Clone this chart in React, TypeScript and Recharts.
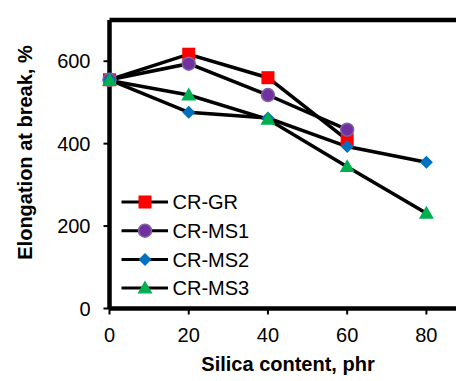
import React from 'react';
import {
  LineChart,
  Line,
  XAxis,
  YAxis,
  Legend,
  ReferenceLine,
  Label,
} from 'recharts';

// Silica content (phr)
const silica = [0, 20, 40, 60, 80];

// Elongation at break (%) per compound, null = not measured
const crGR = [555, 617, 560, 409, null];
const crMS1 = [555, 594, 518, 434, null];
const crMS2 = [555, 476, 462, 393, 355];
const crMS3 = [553, 518, 459, 344, 231];

const xTicks = [0, 20, 40, 60, 80];
const yTicks = [0, 200, 400, 600];

const FONT = '"Liberation Sans", Arial, sans-serif';

const chartData = silica.map((s, i) => ({
  silica: s,
  gr: crGR[i],
  ms1: crMS1[i],
  ms2: crMS2[i],
  ms3: crMS3[i],
}));

// marker shapes
const Square = ({ cx, cy, s = 13 }: any) => (
  <rect x={cx - s / 2} y={cy - s / 2} width={s} height={s} fill="#ff0000" />
);
const Circle = ({ cx, cy, r = 6.5 }: any) => (
  <circle cx={cx} cy={cy} r={r} fill="#7030a0" stroke="#8064a2" strokeWidth={1.5} />
);
const Diamond = ({ cx, cy, s = 6.5 }: any) => (
  <polygon
    points={`${cx},${cy - s} ${cx + s},${cy} ${cx},${cy + s} ${cx - s},${cy}`}
    fill="#0070c0"
  />
);
const Triangle = ({ cx, cy, s = 7.5 }: any) => (
  <polygon
    points={`${cx},${cy - s} ${cx + s},${cy + s * 0.72} ${cx - s},${cy + s * 0.72}`}
    fill="#00b050"
  />
);

const series = [
  { key: 'gr', name: 'CR-GR', Marker: Square },
  { key: 'ms1', name: 'CR-MS1', Marker: Circle },
  { key: 'ms2', name: 'CR-MS2', Marker: Diamond },
  { key: 'ms3', name: 'CR-MS3', Marker: Triangle },
];

const makeDot = (Marker: any) => (props: any) => {
  const { cx, cy, index, value } = props;
  if (value == null || cx == null || cy == null) return <g key={`d${index}`} />;
  return (
    <g key={`d${index}`}>
      <Marker cx={cx} cy={cy} />
    </g>
  );
};

const CustomLegend = () => (
  <svg width={160} height={120} style={{ display: 'block' }}>
    {series.map((s, i) => {
      const y = 14 + i * 28.7;
      return (
        <g key={s.key}>
          <line x1={6.5} x2={53} y1={y} y2={y} stroke="#000" strokeWidth={3} />
          <s.Marker cx={30} cy={y} />
          <text
            x={57.5}
            y={y}
            dy="0.36em"
            fontSize={20}
            fontFamily={FONT}
            fill="#000"
          >
            {s.name}
          </text>
        </g>
      );
    })}
  </svg>
);

export default function App() {
  return (
    <div style={{ position: 'absolute', left: 0, top: 0, width: 456, height: 381, overflow: 'hidden', background: '#fff' }}>
      <LineChart
        width={480}
        height={381}
        data={chartData}
        margin={{ top: 20, right: 14, left: 0, bottom: 0 }}
      >
        <XAxis
          dataKey="silica"
          type="number"
          domain={[0, 90]}
          ticks={xTicks}
          height={72.5}
          axisLine={{ stroke: '#000', strokeWidth: 4.5 }}
          tickLine={{ stroke: '#000', strokeWidth: 2 }}
          tickSize={6}
          tickMargin={13}
          tick={{ fontSize: 20, fontFamily: FONT, fill: '#000' }}
        >
          <Label
            content={() => (
              <text
                x={288}
                y={371}
                textAnchor="middle"
                fontSize={20}
                fontWeight="bold"
                fontFamily={FONT}
                fill="#000"
              >
                Silica content, phr
              </text>
            )}
          />
        </XAxis>
        <YAxis
          type="number"
          domain={[0, 700]}
          ticks={yTicks}
          width={109.5}
          axisLine={{ stroke: '#000', strokeWidth: 4.5 }}
          tickLine={{ stroke: '#000', strokeWidth: 2 }}
          tickSize={6}
          tickMargin={13}
          tick={{ fontSize: 20, fontFamily: FONT, fill: '#000' }}
        >
          <Label
            content={() => (
              <text
                x={32}
                y={152.5}
                transform="rotate(-90 32 152.5)"
                textAnchor="middle"
                fontSize={20}
                fontWeight="bold"
                fontFamily={FONT}
                fill="#000"
              >
                Elongation at break, %
              </text>
            )}
          />
        </YAxis>
        <ReferenceLine y={700} stroke="#000" strokeWidth={4.5} />
        {series.map((s) => (
          <Line
            key={s.key}
            dataKey={s.key}
            name={s.name}
            type="linear"
            stroke="#000"
            strokeWidth={3.5}
            dot={makeDot(s.Marker)}
            activeDot={false}
            isAnimationActive={false}
          />
        ))}
        <Legend
          layout="horizontal"
          align="center"
          verticalAlign="middle"
          content={<CustomLegend />}
          wrapperStyle={{ left: 115, top: 187.5, width: 160, height: 120 }}
        />
      </LineChart>
    </div>
  );
}
